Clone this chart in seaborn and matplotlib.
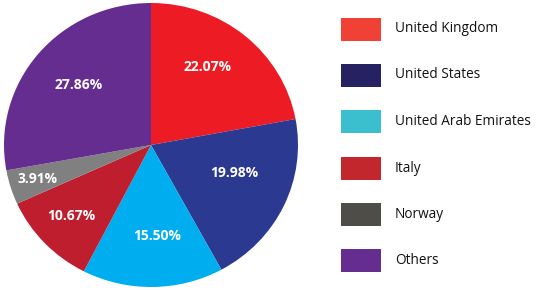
import numpy as np
import matplotlib
matplotlib.use("Agg")
import matplotlib.pyplot as plt
import seaborn as sns
from matplotlib.patches import Rectangle

sns.set_theme(style="white")
plt.rcParams['font.family'] = ['Open Sans', 'DejaVu Sans']

countries = ["United Kingdom", "United States", "United Arab Emirates", "Italy", "Norway", "Others"]
shares = [22.07, 19.98, 15.50, 10.67, 3.91, 27.86]
pie_colors = ["#ED1C24", "#2B3990", "#00AEEF", "#BE1E2D", "#808080", "#662D91"]
legend_colors = ["#EF4136", "#262262", "#3BBFCE", "#C1272D", "#4F4D48", "#662D91"]
label_r = [0.67, 0.60, 0.64, 0.74, 0.81, 0.65]
label_dtheta = [5, 6, 3, -1, 0, -1]

fig = plt.figure(figsize=(5.47, 2.90), dpi=100)
ax = fig.add_axes([4/547, 3/290, 294/547, 284/290])
wedges, _ = ax.pie(shares, colors=pie_colors, startangle=90, counterclock=False,
                   radius=1.0, wedgeprops=dict(linewidth=0))
ax.set_aspect('auto')
ax.set_xlim(-1, 1)
ax.set_ylim(-1, 1)
for w, v, r, dt in zip(wedges, shares, label_r, label_dtheta):
    ang = np.deg2rad((w.theta1 + w.theta2) / 2 + dt)
    ax.text(r * np.cos(ang), r * np.sin(ang), f"{v:.2f}%", color="white",
            fontsize=10, fontweight="bold", ha="center", va="center")

lax = fig.add_axes([0, 0, 1, 1])
lax.set_xlim(0, 547)
lax.set_ylim(290, 0)
lax.axis('off')
row_y = [29, 75, 121.5, 168, 214.5, 260.5]
for name, c, y in zip(countries, legend_colors, row_y):
    lax.add_patch(Rectangle((341, y - 11.5), 40, 23, facecolor=c, edgecolor="none"))
    lax.text(395, y, name, fontsize=9.8, color="#111111", ha="left", va="center")

fig.savefig("out.png", dpi=100)
